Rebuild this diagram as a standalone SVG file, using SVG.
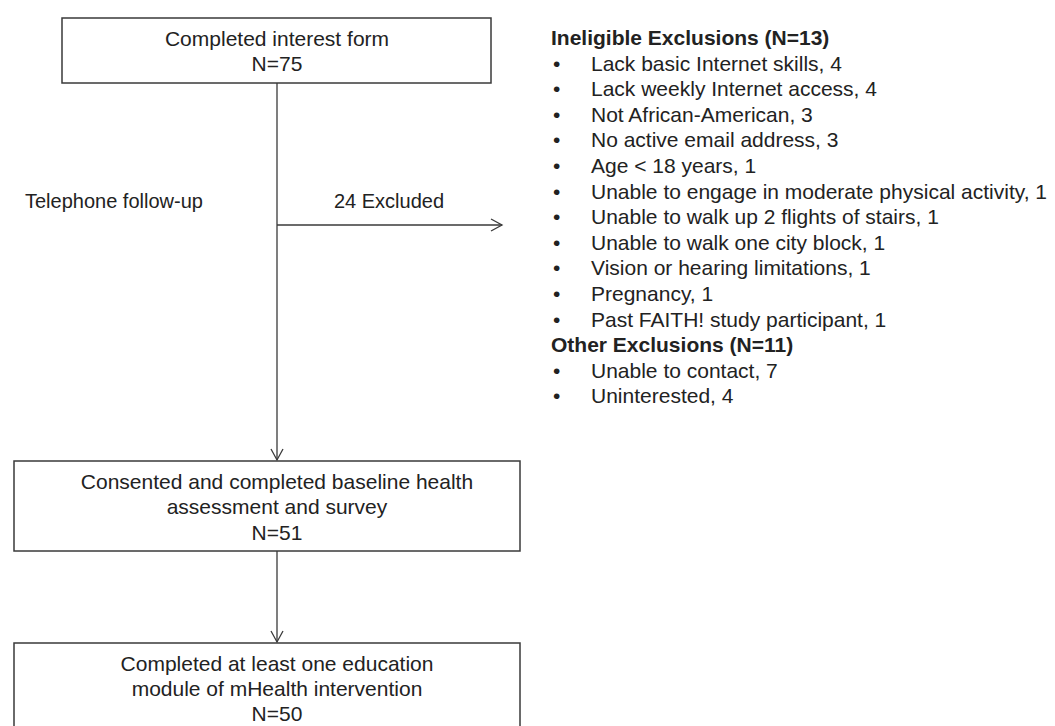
<svg xmlns="http://www.w3.org/2000/svg" width="1055" height="726" viewBox="0 0 1055 726">
<style>
.box{fill:#fff;stroke:#3a3a3a;stroke-width:1.5}
.t{font-family:"Liberation Sans",Arial,sans-serif;font-size:21px;fill:#222}
.s{font-size:20px}
.c{text-anchor:middle}
.b{font-weight:bold}
.ln{stroke:#3a3a3a;stroke-width:1.3;fill:none}
</style>
<defs>
<marker id="ah" markerWidth="14" markerHeight="14" refX="12" refY="7" orient="auto" markerUnits="userSpaceOnUse">
<path d="M1,1 L12,7 L1,13" fill="none" stroke="#3a3a3a" stroke-width="1.3"/>
</marker>
</defs>
<rect width="1055" height="726" fill="#fff"/>
<g id="connectors">
<line class="ln" x1="277" y1="83" x2="277" y2="460" marker-end="url(#ah)"/>
<line class="ln" x1="277" y1="225" x2="502" y2="225" marker-end="url(#ah)"/>
<line class="ln" x1="277" y1="551" x2="277" y2="642" marker-end="url(#ah)"/>
<text class="t s" x="25" y="208">Telephone follow-up</text>
<text class="t s c" x="389" y="208">24 Excluded</text>
</g>
<g id="n1">
<rect class="box" x="62" y="18" width="429" height="65"/>
<text class="t c" x="277" y="46">Completed interest form</text>
<text class="t c" x="277" y="71">N=75</text>
</g>
<g id="n2">
<rect class="box" x="14" y="461" width="506" height="90"/>
<text class="t c" x="277" y="489">Consented and completed baseline health</text>
<text class="t c" x="277" y="514">assessment and survey</text>
<text class="t c" x="277" y="540">N=51</text>
</g>
<g id="n3">
<rect class="box" x="14" y="643" width="506" height="100"/>
<text class="t c" x="277" y="671">Completed at least one education</text>
<text class="t c" x="277" y="696">module of mHealth intervention</text>
<text class="t c" x="277" y="721">N=50</text>
</g>
<g id="exclusions">
<text class="t b" x="551" y="45">Ineligible Exclusions (N=13)</text>
<g class="t">
<text x="553" y="71">•</text><text x="591" y="71">Lack basic Internet skills, 4</text>
<text x="553" y="96">•</text><text x="591" y="96">Lack weekly Internet access, 4</text>
<text x="553" y="122">•</text><text x="591" y="122">Not African-American, 3</text>
<text x="553" y="147">•</text><text x="591" y="147">No active email address, 3</text>
<text x="553" y="173">•</text><text x="591" y="173">Age &lt; 18 years, 1</text>
<text x="553" y="199">•</text><text x="591" y="199">Unable to engage in moderate physical activity, 1</text>
<text x="553" y="224">•</text><text x="591" y="224">Unable to walk up 2 flights of stairs, 1</text>
<text x="553" y="250">•</text><text x="591" y="250">Unable to walk one city block, 1</text>
<text x="553" y="275">•</text><text x="591" y="275">Vision or hearing limitations, 1</text>
<text x="553" y="301">•</text><text x="591" y="301">Pregnancy, 1</text>
<text x="553" y="327">•</text><text x="591" y="327">Past FAITH! study participant, 1</text>
</g>
<text class="t b" x="551" y="352">Other Exclusions (N=11)</text>
<g class="t">
<text x="553" y="378">•</text><text x="591" y="378">Unable to contact, 7</text>
<text x="553" y="403">•</text><text x="591" y="403">Uninterested, 4</text>
</g>
</g>
</svg>
